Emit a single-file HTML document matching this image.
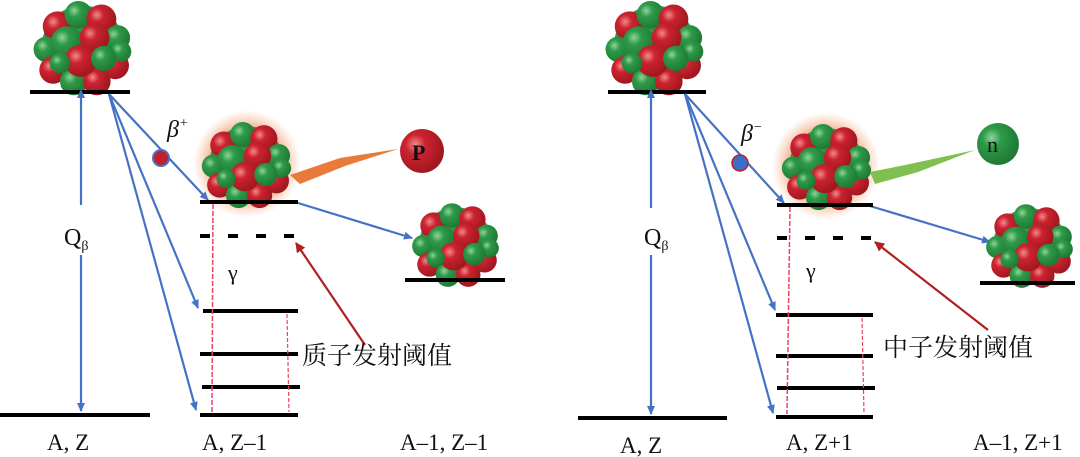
<!DOCTYPE html>
<html><head><meta charset="utf-8"><style>
html,body{margin:0;padding:0;background:#fff;}
svg{display:block;}
text{font-family:"Liberation Serif","Noto Serif CJK SC",serif;fill:#111;}
</style></head><body>
<svg width="1080" height="457" viewBox="0 0 1080 457" xmlns="http://www.w3.org/2000/svg">
<defs>
<radialGradient id="r" cx="35%" cy="35%" r="65%"><stop offset="0" stop-color="#f08a8a"/><stop offset="0.35" stop-color="#cc2230"/><stop offset="1" stop-color="#a01820"/></radialGradient>
<radialGradient id="g" cx="35%" cy="35%" r="65%"><stop offset="0" stop-color="#8fd49a"/><stop offset="0.35" stop-color="#2e9a48"/><stop offset="1" stop-color="#1f7a35"/></radialGradient>
<radialGradient id="glow" cx="50%" cy="50%" r="50%"><stop offset="0.6" stop-color="#e8703a" stop-opacity="0.7"/><stop offset="1" stop-color="#f4a070" stop-opacity="0"/></radialGradient>
<marker id="ab" markerWidth="10" markerHeight="10" refX="8" refY="5" orient="auto" markerUnits="userSpaceOnUse"><path d="M0,1 L9,5 L0,9 Z" fill="#4472c4"/></marker>
<marker id="ab0" markerWidth="10" markerHeight="10" refX="1" refY="5" orient="auto-start-reverse" markerUnits="userSpaceOnUse"><path d="M0,1 L9,5 L0,9 Z" fill="#4472c4"/></marker>
<marker id="ar" markerWidth="12" markerHeight="12" refX="9" refY="6" orient="auto" markerUnits="userSpaceOnUse"><path d="M0,1 L10,6 L0,11 Z" fill="#b02020"/></marker>
<g id="nuc">
<circle r="36" fill="#2e9a48"/>
<circle cx="-22" cy="-18" r="13" fill="url(#r)"/><circle cx="-4" cy="-28" r="12" fill="url(#g)"/><circle cx="16" cy="-24" r="13" fill="url(#r)"/><circle cx="30" cy="-8" r="11" fill="url(#g)"/>
<circle cx="-32" cy="2" r="11" fill="url(#g)"/><circle cx="-26" cy="20" r="12" fill="url(#r)"/><circle cx="-8" cy="30" r="12" fill="url(#g)"/><circle cx="12" cy="30" r="12" fill="url(#r)"/><circle cx="28" cy="16" r="12" fill="url(#r)"/><circle cx="33" cy="4" r="9" fill="url(#g)"/>
<circle cx="-14" cy="-4" r="14" fill="url(#g)"/><circle cx="10" cy="-8" r="13" fill="url(#r)"/><circle cx="-2" cy="12" r="14" fill="url(#r)"/><circle cx="18" cy="10" r="11" fill="url(#g)"/><circle cx="-20" cy="14" r="9" fill="url(#g)"/>
</g>
</defs>

<!-- LEFT PANEL -->
<use href="#nuc" transform="translate(83,47) scale(1.15)"/>
<line x1="30" y1="92" x2="130" y2="92" stroke="#000" stroke-width="4"/>
<line x1="0" y1="415" x2="150" y2="415" stroke="#000" stroke-width="4"/>
<line x1="81" y1="97" x2="81" y2="205" stroke="#4472c4" stroke-width="2.2" marker-start="url(#ab0)"/>
<line x1="81" y1="255" x2="81" y2="411" stroke="#4472c4" stroke-width="2.2" marker-end="url(#ab)"/>
<text x="64" y="245" font-size="24">Q<tspan font-size="14" dy="5">β</tspan></text>
<g stroke="#4472c4" stroke-width="2.2" fill="none">
<line x1="109" y1="94" x2="208" y2="200" marker-end="url(#ab)"/>
<line x1="109" y1="94" x2="198" y2="308" marker-end="url(#ab)"/>
<line x1="109" y1="94" x2="196" y2="410" marker-end="url(#ab)"/>
<line x1="298" y1="203" x2="412" y2="238" marker-end="url(#ab)"/>
</g>
<circle cx="161" cy="158" r="8" fill="#c0202c" stroke="#4472c4" stroke-width="2"/>
<text x="167" y="137" font-size="24" font-style="italic">β<tspan font-size="14" dy="-10">+</tspan></text>
<circle cx="247" cy="164" r="54" fill="url(#glow)"/>
<use href="#nuc" transform="translate(247,164) scale(1.05)"/>
<polygon points="290,175 340,158 398,149 345,166 300,184" fill="#e87a3a"/>
<circle cx="422" cy="151" r="22" fill="url(#r)"/>
<text x="412" y="160" font-size="22" font-weight="bold" fill="#222">P</text>
<g stroke="#000" stroke-width="4">
<line x1="200" y1="202" x2="298" y2="202"/>
<line x1="200" y1="236" x2="298" y2="236" stroke-dasharray="10,18"/>
<line x1="203" y1="311" x2="298" y2="311"/>
<line x1="200" y1="354" x2="298" y2="354"/>
<line x1="202" y1="387" x2="300" y2="387"/>
<line x1="200" y1="415" x2="298" y2="415"/>
</g>
<line x1="213" y1="204" x2="212" y2="412" stroke="#f04060" stroke-width="1.5" stroke-dasharray="5,2"/>
<line x1="287" y1="314" x2="289" y2="412" stroke="#f04060" stroke-width="1.2" stroke-dasharray="4,2"/>
<text x="228" y="280" font-size="22">γ</text>
<line x1="365" y1="345" x2="296" y2="243" stroke="#b02020" stroke-width="2.2" marker-end="url(#ar)"/>
<text x="302" y="364" font-size="25">质子发射阈值</text>
<use href="#nuc" transform="translate(456,244) scale(1.02)"/>
<line x1="405" y1="280" x2="505" y2="280" stroke="#000" stroke-width="4"/>
<text x="47" y="450" font-size="23">A, Z</text>
<text x="202" y="450" font-size="23">A, Z–1</text>
<text x="400" y="450" font-size="23">A–1, Z–1</text>

<!-- RIGHT PANEL -->
<use href="#nuc" transform="translate(655,47) scale(1.15)"/>
<line x1="608" y1="92" x2="706" y2="92" stroke="#000" stroke-width="4"/>
<line x1="578" y1="418" x2="727" y2="418" stroke="#000" stroke-width="4"/>
<line x1="651" y1="97" x2="651" y2="208" stroke="#4472c4" stroke-width="2.2" marker-start="url(#ab0)"/>
<line x1="651" y1="255" x2="651" y2="414" stroke="#4472c4" stroke-width="2.2" marker-end="url(#ab)"/>
<text x="644" y="245" font-size="24">Q<tspan font-size="14" dy="5">β</tspan></text>
<g stroke="#4472c4" stroke-width="2.2" fill="none">
<line x1="685" y1="94" x2="784" y2="203" marker-end="url(#ab)"/>
<line x1="685" y1="94" x2="775" y2="310" marker-end="url(#ab)"/>
<line x1="685" y1="94" x2="773" y2="413" marker-end="url(#ab)"/>
<line x1="870" y1="206" x2="990" y2="242" marker-end="url(#ab)"/>
</g>
<circle cx="740" cy="163" r="8" fill="#3a6fc8" stroke="#c02020" stroke-width="1.5"/>
<text x="741" y="141" font-size="24" font-style="italic">β<tspan font-size="14" dy="-10">−</tspan></text>
<circle cx="826" cy="166" r="54" fill="url(#glow)"/>
<use href="#nuc" transform="translate(827,166) scale(1.05)"/>
<polygon points="870,172 905,165 975,150 918,172 875,184" fill="#80c050"/>
<circle cx="998" cy="144" r="21" fill="url(#g)"/>
<text x="987" y="152" font-size="22" fill="#222">n</text>
<g stroke="#000" stroke-width="4">
<line x1="777" y1="205" x2="873" y2="205"/>
<line x1="777" y1="238" x2="873" y2="238" stroke-dasharray="10,18"/>
<line x1="776" y1="315" x2="873" y2="315"/>
<line x1="776" y1="356" x2="873" y2="356"/>
<line x1="777" y1="388" x2="875" y2="388"/>
<line x1="776" y1="417" x2="873" y2="417"/>
</g>
<line x1="790" y1="207" x2="787" y2="414" stroke="#f04060" stroke-width="1.5" stroke-dasharray="5,2"/>
<line x1="862" y1="318" x2="864" y2="414" stroke="#f04060" stroke-width="1.2" stroke-dasharray="4,2"/>
<text x="806" y="278" font-size="22">γ</text>
<line x1="988" y1="330" x2="875" y2="242" stroke="#b02020" stroke-width="2.2" marker-end="url(#ar)"/>
<text x="883" y="356" font-size="25">中子发射阈值</text>
<use href="#nuc" transform="translate(1030,245) scale(1.02)"/>
<line x1="980" y1="283" x2="1075" y2="283" stroke="#000" stroke-width="4"/>
<text x="620" y="453" font-size="23">A, Z</text>
<text x="786" y="450" font-size="23">A, Z+1</text>
<text x="973" y="450" font-size="23">A–1, Z+1</text>
</svg>
</body></html>
